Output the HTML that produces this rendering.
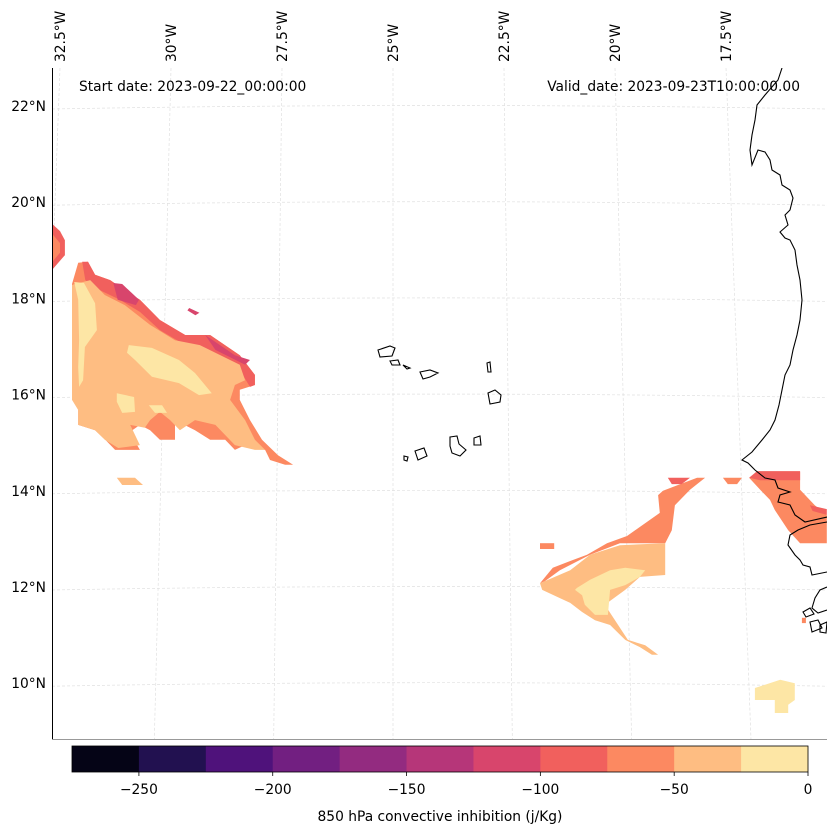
<!DOCTYPE html>
<html><head><meta charset="utf-8"><style>
body{margin:0;background:#fff}
svg{display:block;font-family:"DejaVu Sans","Liberation Sans",sans-serif}
</style></head><body>
<svg id="chart" width="837" height="836" viewBox="0 0 837 836" xmlns="http://www.w3.org/2000/svg">
<defs><clipPath id="mapclip"><rect x="52" y="68" width="775" height="671"/></clipPath></defs>
<g id="grid" clip-path="url(#mapclip)"></g>
<g id="fills" clip-path="url(#mapclip)"></g>
<g id="coast" clip-path="url(#mapclip)" fill="none" stroke="#000" stroke-width="1.1">
<path d="M782,68 L778,80 L765,95 L757,105 L755,120 L752,135 L750,150 L752,165 L758,150 L765,152 L770,160 L772,170 L780,175 L782,185 L790,190 L793,198 L790,210 L785,215 L788,225 L780,232 L785,238 L790,240 L795,250 L797,265 L800,280 L802,300 L800,320 L797,335 L793,350 L790,365 L785,375 L782,390 L779,405 L775,420 L770,430 L762,440 L752,452 L742,460 L748,463 L755,470 L765,478 L775,480 L778,488 L790,492 L780,495 L778,502 L790,505 L795,515 L805,522 L827,517"/>
<path d="M827,522 L810,525 L798,530 L790,535 L788,545 L795,555 L800,560 L803,565 L810,567 L812,575 L827,572"/>
<path d="M827,587 L820,590 L815,598 L812,608 L818,613 L827,610 M803,612 L810,608 L814,614 L806,617 Z M810,622 L818,620 L822,628 L812,632 Z M820,625 L827,622 L826,633 L820,632 Z"/>
<path d="M378,350 L390,346 L395,348 L392,356 L380,357 Z M390,361 L398,360 L400,365 L392,365 Z M403,365 L410,368 L407,369 Z M420,372 L430,370 L438,373 L430,377 L423,379 Z M487,363 L490,362 L491,372 L488,372 Z M488,393 L495,390 L501,395 L500,402 L490,404 Z M450,437 L457,436 L459,444 L466,450 L460,456 L452,453 L450,446 Z M474,438 L480,436 L481,445 L474,445 Z M415,451 L424,448 L427,456 L418,460 Z M404,456 L408,457 L407,461 L404,460 Z"/>
</g>
<line x1="52.5" y1="68" x2="52.5" y2="739" stroke="#000" stroke-width="1"/>
<line x1="52" y1="739.5" x2="827" y2="739.5" stroke="#999" stroke-width="1"/>
<g id="labels" font-size="13.8" fill="#000"></g>
<text x="79" y="91" font-size="13.8">Start date: 2023-09-22_00:00:00</text>
<text x="800" y="91" font-size="13.8" text-anchor="end">Valid_date: 2023-09-23T10:00:00.00</text>
<g id="cbar"></g>
<text x="440" y="821" font-size="13.8" text-anchor="middle">850 hPa convective inhibition (j/Kg)</text>
</svg>
<script>
const levels=[-275,-250,-225,-200,-175,-150,-125,-100,-75,-50,-25,0];
const colors=["#050416","#221150","#4f127b","#721f81","#932b80","#b63679","#d8456c","#f1605d","#fc8961","#febd82","#fde6a5"];
const cbTicks=[-250,-200,-150,-100,-50,0];
const latTicks=[22,20,18,16,14,12,10];
const lonTicks=[-32.5,-30,-27.5,-25,-22.5,-20,-17.5];
const contourLevels=[-75,-100,-125,-125,-125,-50,-25,-25,-25,-25,-100,-75,-50,
 -75,-50,-25,-75,-75,-100,-75,-100,-100,-25,-75];
const contourPolys=[
 [[-32.09,18.74],[-31.87,18.76],[-31.71,18.49],[-31.37,18.38],[-31.04,18.17],[-30.7,17.97],[-30.25,17.55],[-29.68,17.24],[-29.12,17.24],[-28.45,16.82],[-28.11,16.41],[-28.11,16.2],[-28.45,16.1],[-28.45,15.89],[-28.22,15.47],[-27.95,15.06],[-27.59,14.74],[-27.25,14.54],[-27.43,14.54],[-27.77,14.64],[-27.88,14.85],[-28.33,14.95],[-28.56,14.85],[-28.78,15.06],[-29.12,15.06],[-29.46,15.26],[-29.91,15.47],[-29.91,15.06],[-30.25,15.06],[-30.47,15.26],[-30.7,15.37],[-30.93,15.22],[-30.7,14.85],[-31.26,14.85],[-31.48,15.06],[-31.71,15.26],[-32.09,15.37],[-32.09,15.68],[-31.93,15.79],[-32.16,16.1],[-32.23,16.2],[-32.23,18.3]],
 [[-32,18.76],[-31.87,18.76],[-31.71,18.49],[-31.37,18.38],[-31.04,18.17],[-30.7,17.97],[-30.25,17.55],[-29.68,17.24],[-29.12,17.24],[-28.45,16.82],[-28.11,16.41],[-28.11,16.2],[-28.22,16.16],[-28.45,16.51],[-29.0,16.82],[-29.68,17.03],[-30.25,17.34],[-30.7,17.72],[-31.15,17.97],[-31.6,18.17],[-31.93,18.38]],
 [[-31.3,18.32],[-31.1,18.3],[-30.72,17.97],[-30.79,17.86],[-31.2,17.97]],
 [[-29.23,17.24],[-28.56,16.82],[-28.22,16.72],[-28.33,16.62],[-29.0,16.93]],
 [[-29.59,17.8],[-29.36,17.7],[-29.45,17.65],[-29.63,17.75]],
 [[-32.23,18.28],[-31.82,18.38],[-31.49,18.07],[-31.04,17.86],[-30.47,17.45],[-29.91,17.13],[-29.35,17.03],[-28.67,16.72],[-28.45,16.62],[-28.33,16.3],[-28.56,16.2],[-28.67,15.89],[-28.33,15.47],[-28.11,15.06],[-27.88,14.85],[-28.11,14.85],[-28.56,14.95],[-29.0,15.37],[-29.46,15.47],[-29.8,15.26],[-30.02,15.47],[-30.25,15.64],[-30.47,15.47],[-30.59,15.31],[-30.92,15.37],[-30.7,14.95],[-31.19,14.89],[-31.49,15.06],[-31.71,15.26],[-32.09,15.37],[-32.09,15.68],[-32.23,15.89]],
 [[-32.18,18.34],[-31.96,18.32],[-31.71,17.9],[-31.67,17.34],[-31.94,16.99],[-31.98,16.3],[-32.07,16.16],[-32.09,16.57],[-32.07,17.13],[-32.09,17.97]],
 [[-30.95,17.03],[-30.43,16.97],[-29.82,16.72],[-29.46,16.45],[-29.08,16.03],[-29.37,15.99],[-29.82,16.24],[-30.43,16.37],[-30.81,16.72],[-30.99,16.87]],
 [[-31.22,16.03],[-30.83,15.95],[-30.81,15.64],[-31.1,15.62],[-31.22,15.85]],
 [[-30.5,15.78],[-30.2,15.78],[-30.09,15.62],[-30.36,15.62]],
 [[-32.68,19.55],[-32.5,19.4],[-32.39,19.21],[-32.39,18.9],[-32.68,18.59]],
 [[-32.68,19.35],[-32.5,19.15],[-32.5,18.95],[-32.68,18.75]],
 [[-31.22,14.27],[-30.81,14.27],[-30.63,14.12],[-31.1,14.12]],
 [[-21.69,12.08],[-21.40,12.40],[-21.01,12.54],[-20.63,12.67],[-20.18,12.91],[-19.73,13.06],[-18.99,13.54],[-19.03,13.91],[-18.92,14.0],[-18.58,14.12],[-18.15,14.27],[-17.97,14.27],[-18.31,14.02],[-18.65,13.70],[-18.72,13.18],[-18.87,12.91],[-19.89,12.91],[-20.56,12.67],[-21.24,12.35],[-21.58,12.12]],
 [[-21.69,12.08],[-21.01,12.35],[-20.56,12.67],[-19.89,12.87],[-18.87,12.91],[-18.87,12.25],[-19.44,12.21],[-19.77,11.94],[-20.23,11.63],[-20.0,11.31],[-19.71,10.90],[-19.32,10.79],[-19.03,10.59],[-19.17,10.59],[-19.44,10.75],[-19.77,10.90],[-20.11,11.21],[-20.45,11.31],[-20.74,11.48],[-21.01,11.67],[-21.24,11.77],[-21.64,11.94]],
 [[-20.86,11.98],[-20.56,12.15],[-20.11,12.35],[-19.77,12.40],[-19.32,12.35],[-19.44,12.21],[-19.77,12.04],[-20.11,11.94],[-20.16,11.42],[-20.45,11.42],[-20.68,11.63],[-20.74,11.83],[-20.90,11.94]],
 [[-21.69,12.91],[-21.37,12.91],[-21.37,12.79],[-21.69,12.79]],
 [[-17.57,14.27],[-17.14,14.27],[-17.25,14.14],[-17.46,14.14]],
 [[-18.81,14.27],[-18.31,14.27],[-18.50,14.14],[-18.72,14.14]],
 [[-16.98,14.27],[-15.83,14.39],[-15.83,14.02],[-15.50,13.70],[-15.23,13.50],[-15.23,12.91],[-15.83,12.91],[-16.10,13.18],[-16.40,13.60],[-16.51,13.81],[-16.73,14.02]],
 [[-16.98,14.27],[-16.80,14.41],[-15.83,14.41],[-15.83,14.22],[-16.73,14.22]],
 [[-15.61,13.70],[-15.23,13.62],[-15.23,13.50],[-15.55,13.58]],
 [[-16.85,9.90],[-16.28,10.07],[-15.95,10.0],[-15.95,9.65],[-16.10,9.55],[-16.10,9.38],[-16.40,9.38],[-16.40,9.65],[-16.85,9.65]],
 [[-15.79,11.36],[-15.70,11.36],[-15.70,11.25],[-15.79,11.25]]
];
const X0=52,X1=827,Y0=68,Y1=739;
const xScale=lon=>60+(lon+32.5)*44.4;
const yScale=lat=>106+(22-lat)*48.1;
const cbX=v=>72+(v-levels[0])/(levels[levels.length-1]-levels[0])*736;
const NS="http://www.w3.org/2000/svg";
function mk(tag,attrs,parent){const e=document.createElementNS(NS,tag);for(const k in attrs)e.setAttribute(k,attrs[k]);parent.appendChild(e);return e;}
const grid=document.getElementById('grid'),fills=document.getElementById('fills'),labels=document.getElementById('labels'),cbar=document.getElementById('cbar');
latTicks.forEach(lat=>{
  const y=yScale(lat);
  const l=mk('path',{d:`M${X0},${y+3} Q${(X0+X1)/2},${y-4} ${X1},${y+3}`,stroke:'#e0e0e0','stroke-width':0.7,'stroke-dasharray':'3,2',fill:'none'},grid);
  
  
  const t=mk('text',{x:46,y:y+5,'text-anchor':'end'},labels);
  t.textContent=lat+'°N';
  
  
});
lonTicks.forEach(lon=>{
  const x=xScale(lon);const xb=x+(x-393)*0.075;
  const l=mk('line',{x1:x,y1:Y0,x2:xb,y2:Y1,stroke:'#e0e0e0','stroke-width':0.7,'stroke-dasharray':'3,2'},grid);
  
  
  const t=mk('text',{x:0,y:0,transform:`translate(${x+5},62) rotate(-90)`},labels);
  t.textContent=Math.abs(lon)+'°W';
  
  
});
contourPolys.forEach((poly,i)=>{
  const lv=contourLevels[i];const ci=levels.indexOf(lv);
  const d='M'+poly.map(p=>xScale(p[0]).toFixed(1)+','+yScale(p[1]).toFixed(1)).join('L')+'Z';
  const p=mk('path',{d:d,fill:colors[ci]},fills);
  
  
});
colors.forEach((c,i)=>{
  const x=cbX(levels[i]),w=cbX(levels[i+1])-x;
  const r=mk('rect',{x:x,y:746,width:w+0.5,height:26,fill:c},cbar);
  
  
});
mk('rect',{x:72,y:746,width:736,height:26,fill:'none',stroke:'#000','stroke-width':0.8},cbar);
cbTicks.forEach(v=>{
  const x=cbX(v);
  mk('line',{x1:x,y1:772,x2:x,y2:776,stroke:'#000','stroke-width':0.8},cbar);
  const t=mk('text',{x:x,y:794,'text-anchor':'middle','font-size':13.8},cbar);
  t.textContent=v<0?'\u2212'+Math.abs(v):String(v);
  
  
});
</script>
</body></html>
